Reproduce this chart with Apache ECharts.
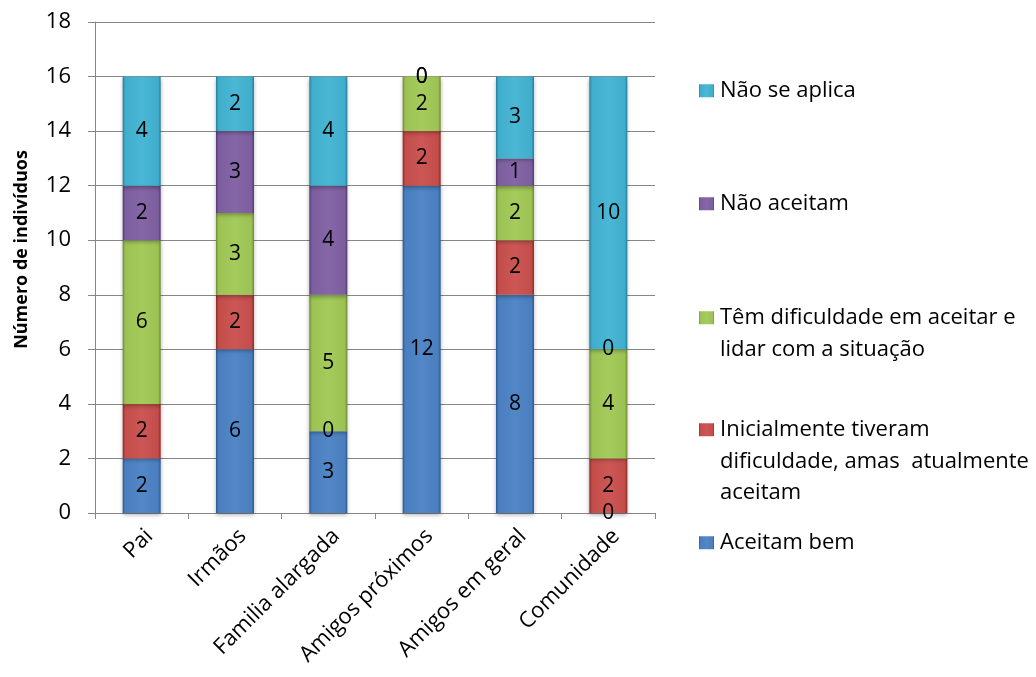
<!DOCTYPE html>
<html>
<head>
<meta charset="utf-8">
<script src="https://cdn.jsdelivr.net/npm/echarts@6/dist/echarts.min.js"></script>
<style>
  html, body { margin: 0; padding: 0; background: #fff; }
  #chart { width: 1036px; height: 677px; }
</style>
</head>
<body>
<div id="chart"></div>
<script>
// Categories (who) and counts per response group
const categories = ['Pai', 'Irmãos', 'Familia alargada', 'Amigos próximos', 'Amigos em geral', 'Comunidade'];
const aceitamBem = [2, 6, 3, 12, 8, 0];
const inicialmente = [2, 2, 0, 2, 2, 2];
const temDificuldade = [6, 3, 5, 2, 2, 4];
const naoAceitam = [2, 3, 4, 0, 1, 0];
const naoSeAplica = [4, 2, 4, 0, 3, 10];

// Series names, legend text lines and base colours
const seriesNames = [
  'Aceitam bem',
  'Inicialmente tiveram dificuldade, amas atualmente aceitam',
  'Têm dificuldade em aceitar e lidar com a situação',
  'Não aceitam',
  'Não se aplica'
];
const legendLines = [
  ['Aceitam bem'],
  ['Inicialmente tiveram', 'dificuldade, amas  atualmente', 'aceitam'],
  ['Têm dificuldade em aceitar e', 'lidar com a situação'],
  ['Não aceitam'],
  ['Não se aplica']
];
const seriesData = [aceitamBem, inicialmente, temDificuldade, naoAceitam, naoSeAplica];
const palette = [
  ['#2c5a92', '#4a7ebe', '#5287c8'],
  ['#8c2c29', '#c24d4a', '#cc5754'],
  ['#6e8c2f', '#9cc254', '#a5cb5c'],
  ['#523c72', '#7c5e9f', '#8567a8'],
  ['#257f99', '#40adcc', '#4ab7d5']
];
const legendTops = [522, 409, 297, 183, 70];

const FONT = '"Open Sans", "Noto Sans", sans-serif';

function barGradient(c) {
  return new echarts.graphic.LinearGradient(0, 0, 1, 0, [
    { offset: 0, color: c[0] },
    { offset: 0.07, color: c[1] },
    { offset: 0.5, color: c[2] },
    { offset: 0.93, color: c[1] },
    { offset: 1, color: c[0] }
  ]);
}

const series = seriesData.map((d, i) => ({
  name: seriesNames[i],
  type: 'bar',
  stack: 'total',
  barWidth: 38,
  data: d,
  itemStyle: {
    color: barGradient(palette[i]),
    shadowColor: 'rgba(0,0,0,0.3)',
    shadowBlur: 4,
    shadowOffsetY: 2
  },
  label: {
    show: true,
    position: 'inside',
    color: '#000',
    fontFamily: FONT,
    fontSize: 21
  },
  emphasis: { disabled: true }
}));

// One legend block per series so each entry sits at its own height;
// blank lines above keep the swatch level with the first text line.
const legends = seriesNames.map((name, i) => {
  const lines = legendLines[i];
  const pad = new Array(lines.length - 1).fill('').join('\n');
  const text = (lines.length > 1 ? pad + '\n' : '') + lines.join('\n');
  return {
    data: [{ name: name, icon: 'rect', itemStyle: { color: barGradient(palette[i]) } }],
    left: 694,
    top: legendTops[i] - (lines.length - 1) * 31.5,
    itemWidth: 15,
    itemHeight: 13,
    itemGap: 0,
    selectedMode: false,
    formatter: () => text,
    textStyle: {
      fontFamily: FONT,
      fontSize: 22,
      color: '#000',
      lineHeight: 31.5,
      padding: [0, 0, 0, 1]
    }
  };
});

const chart = echarts.init(document.getElementById('chart'), null, { renderer: 'canvas' });
chart.setOption({
  animation: false,
  backgroundColor: '#fff',
  grid: { left: 95, right: 381, top: 22, bottom: 164 },
  legend: legends,
  xAxis: {
    type: 'category',
    data: categories,
    axisLine: { lineStyle: { color: '#868686', width: 1 } },
    axisTick: { show: true, length: 6, lineStyle: { color: '#868686' } },
    axisLabel: {
      rotate: 45,
      margin: 12,
      verticalAlign: 'top',
      color: '#000',
      fontFamily: FONT,
      fontSize: 22
    }
  },
  yAxis: {
    type: 'value',
    min: 0,
    max: 18,
    interval: 2,
    name: 'Número de indivíduos',
    nameLocation: 'middle',
    nameGap: 64,
    nameTextStyle: {
      fontFamily: FONT,
      fontSize: 18,
      fontWeight: 'bold',
      color: '#000',
      padding: [0, 0, 0, 36]
    },
    axisLine: { show: true, lineStyle: { color: '#868686', width: 1 } },
    axisTick: { show: true, length: 7, lineStyle: { color: '#868686' } },
    axisLabel: { margin: 24, color: '#000', fontFamily: FONT, fontSize: 22 },
    splitLine: { show: true, lineStyle: { color: '#868686', width: 1 } }
  },
  series: series
});
</script>
</body>
</html>
